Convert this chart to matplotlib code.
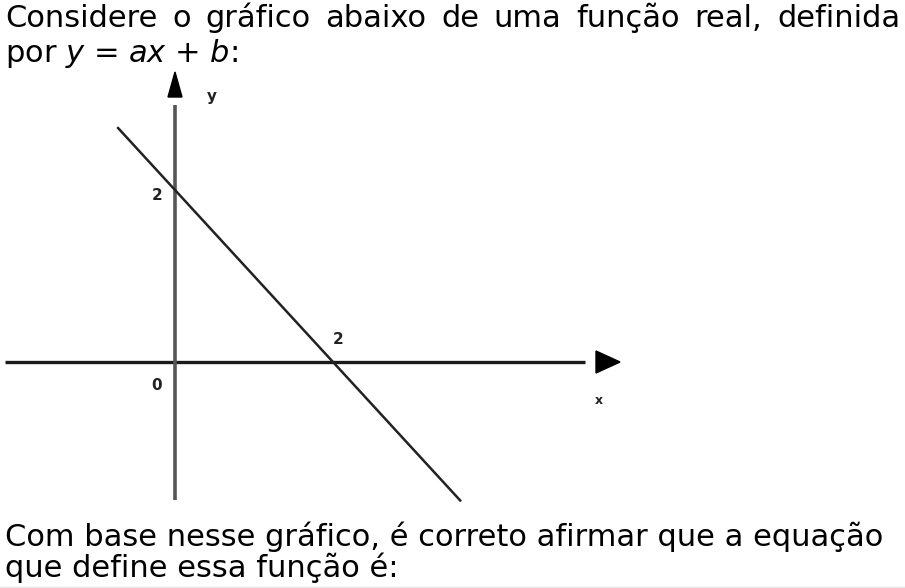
import matplotlib
matplotlib.use("Agg")
import matplotlib.pyplot as plt
from matplotlib.patches import Polygon

# Data: line y = a x + b, with intercepts (0, 2) and (2, 0)
line_x = [-0.72, 3.61]
line_y = [2.72, -1.61]
intercept_labels = ["2", "2", "0"]
axis_labels = ["x", "y"]

top_text = ["Considere o gráfico abaixo de uma função real, definida",
            "por $\\mathit{y}$ = $\\mathit{ax}$ + $\\mathit{b}$:"]
bottom_text = ["Com base nesse gráfico, é correto afirmar que a equação",
               "que define essa função é:"]

W, H = 905, 588
fig = plt.figure(figsize=(W / 100, H / 100), dpi=100)
ax = fig.add_axes([0, 0, 1, 1])
ox, oy = 175, 362          # origin in pixels
ux, uy = 79, 86            # pixels per unit
ax.set_xlim(-ox / ux, (W - ox) / ux)
ax.set_ylim(-(H - oy) / uy, oy / uy)
ax.axis("off")

def px(x):
    return (x - ox) / ux

def py(y):
    return (oy - y) / uy

# axes
ax.plot([px(5), px(585)], [0, 0], color="#1a1a1a", lw=2.4, solid_capstyle="butt")
ax.plot([0, 0], [py(500), py(105)], color="#555555", lw=2.6, solid_capstyle="butt")
ax.add_patch(Polygon([[px(596), py(351)], [px(596), py(373)], [px(620), py(362)]],
                     closed=True, color="black"))
ax.add_patch(Polygon([[px(168), py(97)], [px(182), py(97)], [px(175), py(72)]],
                     closed=True, color="black"))

# function line
ax.plot(line_x, line_y, color="#222222", lw=1.8)

lab = dict(fontsize=11, fontweight="bold", color="#222222", ha="center", va="center")
ax.text(px(157), py(195), intercept_labels[0], **lab)
ax.text(px(338), py(339), intercept_labels[1], **lab)
ax.text(px(157), py(385), intercept_labels[2], **lab)
ax.text(px(599), py(401), axis_labels[0], fontsize=9, fontweight="bold", color="#222222",
        ha="center", va="center")
ax.text(px(212), py(96), axis_labels[1], fontsize=11, fontweight="bold", color="#222222",
        ha="center", va="center")

# faint bottom border
ax.plot([px(0), px(W)], [py(586.5), py(586.5)], color="#e6e6e6", lw=1)

# text blocks
fs = 22
def words_justified(line, y, x0, x1):
    words = line.split(" ")
    r = fig.canvas.get_renderer()
    objs = [fig.text(0, 1 - y / H, w, fontsize=fs, va="baseline", ha="left") for w in words]
    widths = [o.get_window_extent(r).width for o in objs]
    gap = (x1 - x0 - sum(widths)) / (len(words) - 1)
    x = x0
    for o, w in zip(objs, widths):
        o.set_x(x / W)
        x += w + gap

words_justified(top_text[0], 27, 5, 900)
fig.text(5 / W, 1 - 62 / H, top_text[1], fontsize=fs, va="baseline", ha="left")
fig.text(5 / W, 1 - 546 / H, bottom_text[0], fontsize=fs, va="baseline", ha="left")
fig.text(5 / W, 1 - 577 / H, bottom_text[1], fontsize=fs, va="baseline", ha="left")

fig.savefig("out.png", dpi=100)
